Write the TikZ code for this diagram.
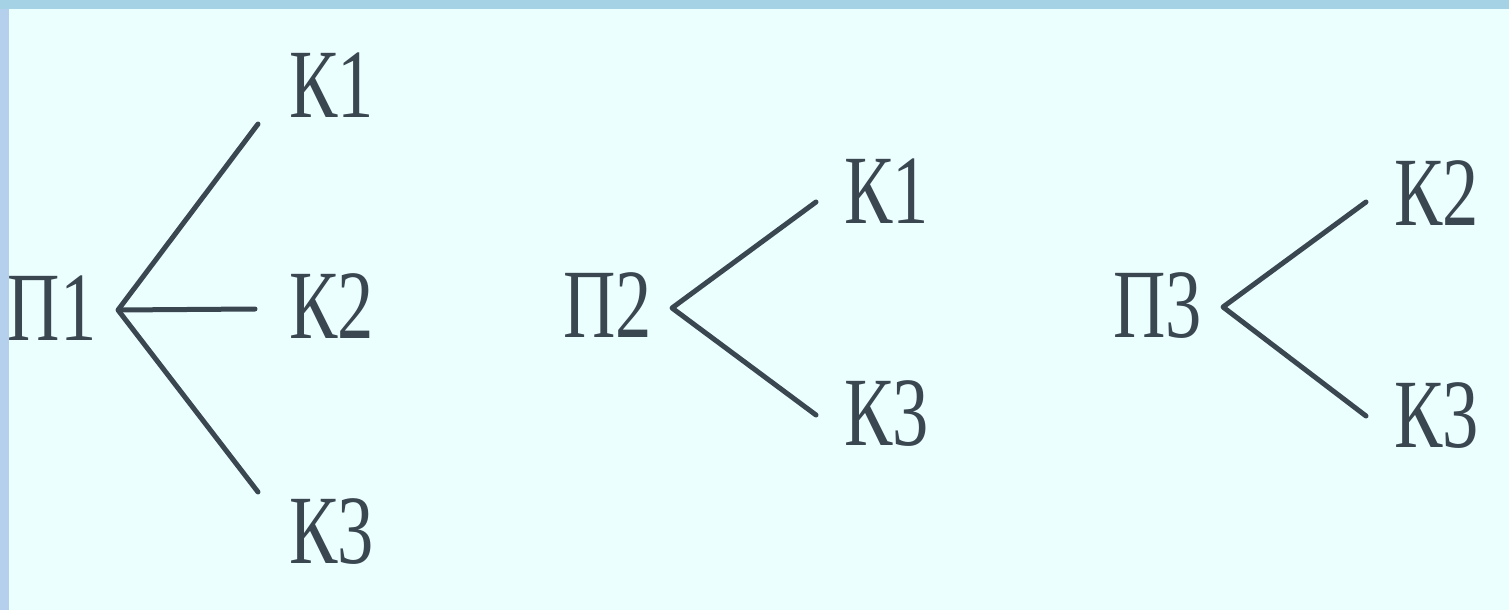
\documentclass[tikz,border=0pt]{standalone}
\usepackage{fontspec}
\newfontfamily\treefont[FakeStretch=0.74]{Liberation Serif}
\definecolor{bgc}{HTML}{ECFFFF}
\definecolor{topc}{HTML}{A6D2E6}
\definecolor{leftc}{HTML}{B4D0EC}
\definecolor{ink}{HTML}{3A4650}
\tikzset{
  lbl/.style={anchor=base west,inner sep=0pt,outer sep=0pt,text=ink,font=\treefont\fontsize{98pt}{100pt}\selectfont},
  branch/.style={draw=ink,line width=5pt,line cap=round,line join=round}
}
\begin{document}
\begin{tikzpicture}[x=1pt,y=-1pt]
\useasboundingbox (0,0) rectangle (1509,610);
\fill[bgc] (0,0) rectangle (1509,610);
\fill[leftc] (0,0) rectangle (9,610);
\fill[topc] (0,0) rectangle (1509,9);
% tree 1
\node[lbl] (p1) at (8,340) {П1};
\node[lbl] (t1k1) at (289,117) {К1};
\node[lbl] (t1k2) at (289,338) {К2};
\node[lbl] (t1k3) at (289,563) {К3};
\coordinate (j1) at (118,310);
\coordinate (e11) at (258,124);
\coordinate (e12) at (255,309);
\coordinate (e13) at (258,492);
\draw[branch] (e11) -- (j1) -- (e13);
\draw[branch] (j1) -- (e12);
% tree 2
\node[lbl] (p2) at (563,337) {П2};
\node[lbl] (t2k1) at (844,223) {К1};
\node[lbl] (t2k3) at (844,445) {К3};
\coordinate (j2) at (672,308);
\coordinate (e21) at (816,202);
\coordinate (e23) at (816,415);
\draw[branch] (e21) -- (j2) -- (e23);
% tree 3
\node[lbl] (p3) at (1113,337) {П3};
\node[lbl] (t3k2) at (1394,225) {К2};
\node[lbl] (t3k3) at (1394,447) {К3};
\coordinate (j3) at (1223,307);
\coordinate (e32) at (1366,202);
\coordinate (e33) at (1366,416);
\draw[branch] (e32) -- (j3) -- (e33);
\end{tikzpicture}
\end{document}
